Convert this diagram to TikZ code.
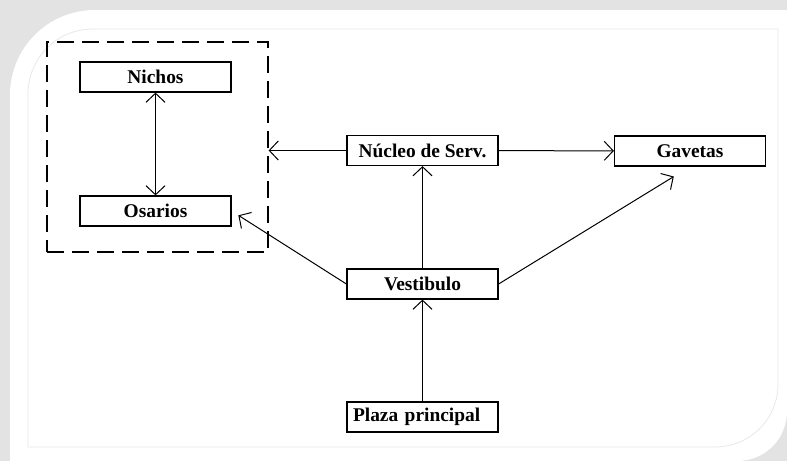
\documentclass[tikz,border=0pt]{standalone}
\usepackage{fontspec}
\setmainfont{Liberation Serif}
\usetikzlibrary{arrows.meta}
\tikzset{
  caja/.style={draw, line width=1.2pt, minimum width=151pt, minimum height=30pt, inner sep=6pt,
    font=\fontsize{19.4}{22}\selectfont\bfseries},
  flecha/.style={line width=1pt, -{Straight Barb[length=9pt,width=19pt]}},
}
\begin{document}
\begin{tikzpicture}[x=1pt, y=-1pt]
    \useasboundingbox (0,0) rectangle (787,461);
    \fill[gray!22] (0,0) rectangle (787,461);
    \fill[white] (10,461) -- (10,95) .. controls (10,48) and (48,10) .. (95,10) -- (787,10)
      -- (787,411) .. controls (787,439) and (765,461) .. (737,461) -- cycle;
    \draw[gray!18, line width=0.8pt] (28,447) -- (28,94) .. controls (28,58) and (57,29) .. (93,29) -- (778,29)
      -- (778,384) .. controls (778,419) and (750,447) .. (715,447) -- cycle;
    \node [draw, dashed, dash pattern=on 17pt off 8pt, line width=1.2pt, minimum width=221pt, minimum height=210pt] (grupo) at (157.5,147) {};
    \node [caja] (nichos) at (155.5,77) {Nichos};
    \node [caja] (osarios) at (155.5,211) {Osarios};
    \node [caja] (nucleo) at (422.5,150.5) {Núcleo de Serv.};
    \node [caja] (gavetas) at (690,151) {Gavetas};
    \node [caja] (vestibulo) at (422.5,284) {Vestibulo};
    \node [caja, text width=139pt, align=left] (plaza) at (422.5,417) {Plaza principal};
    \draw [flecha, {Straight Barb[length=9pt,width=19pt]}-{Straight Barb[length=9pt,width=19pt]}] (nichos) -- (osarios);
    \draw [flecha] (nucleo.west) -- (nucleo.west -| grupo.east);
    \draw [flecha] (nucleo) -- (gavetas);
    \draw [flecha] (vestibulo) -- (nucleo);
    \draw [flecha] (plaza) -- (vestibulo);
    \draw [flecha, shorten >=8pt] (vestibulo.west) -- (osarios.east);
    \draw [flecha, shorten >=19pt] (vestibulo.east) -- (gavetas.south);
  \end{tikzpicture}
\end{document}
